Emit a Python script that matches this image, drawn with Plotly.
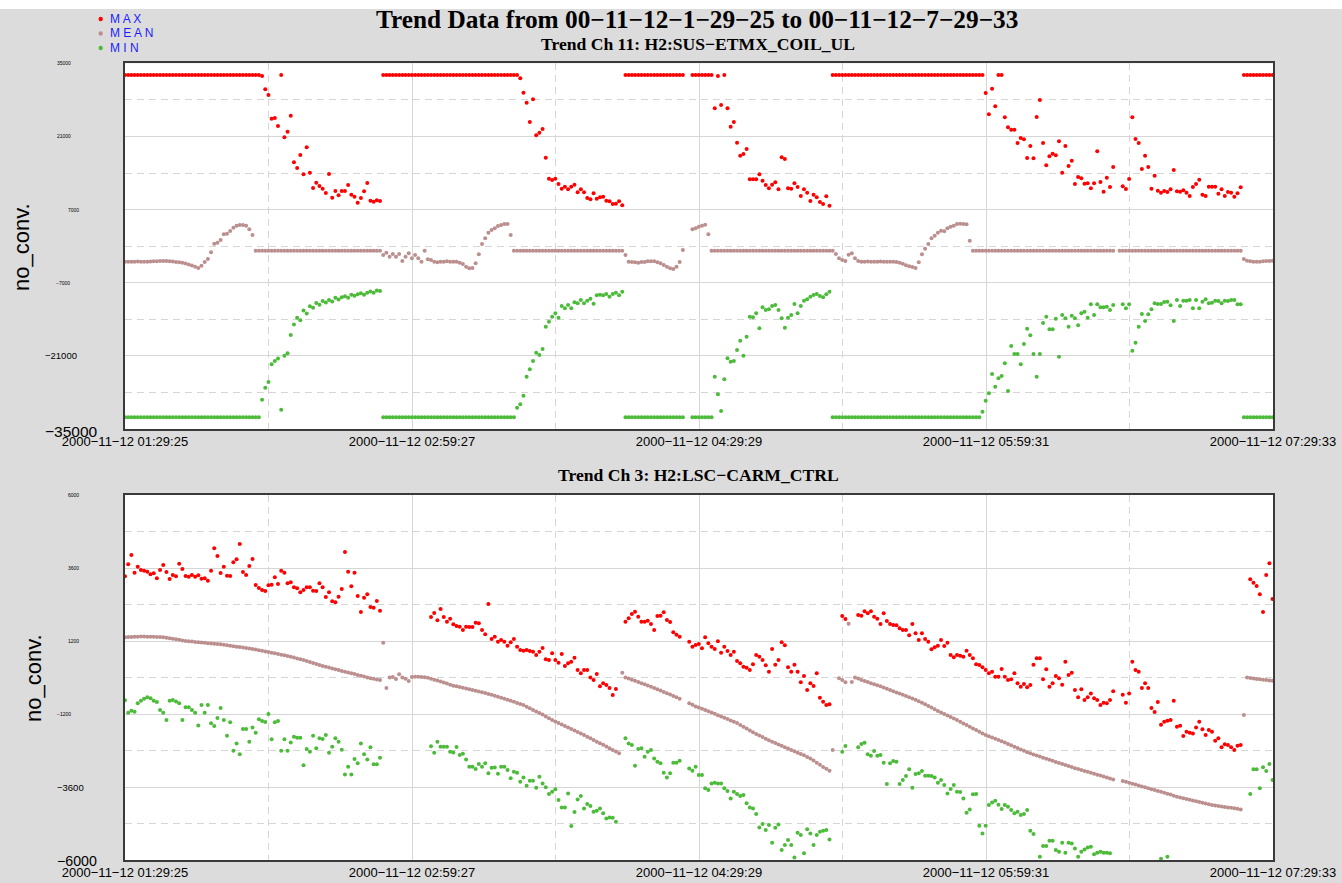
import pandas as pd
import plotly.graph_objects as go

# ---------------------------------------------------------------------------
# Trend data: one point per minute, 01:29:25 .. 07:29:25 (361 samples)
# ---------------------------------------------------------------------------
T0 = pd.Timestamp("2000-11-12 01:29:25")
T_END = pd.Timestamp("2000-11-12 07:29:33")
N = 361
times = [T0 + pd.Timedelta(minutes=i) for i in range(N)]

RAIL_HI = 32767
RAIL_LO = -32768
NA = None

# ---- Ch 11: H2:SUS-ETMX_COIL_UL ------------------------------------------
ch11_max = (
    [RAIL_HI] * 43
    + [32570, 30018, 28933, 24403, 24530, 23000, RAIL_HI]
    + [20830, 21915, 24978, 16045, 14960, 17450, 13750, 18916, 14068, 11133,
       12154, 11516, 11005, 10176, 13812, 9283, 10559, 9730, 10559, 10559,
       11707, 9857, 9474, 8326, 9219, 10495, 12090, 8708, 8517, 8772, 8645]
    + [RAIL_HI] * 43
    + [32123, 29380, 27466, 23765, 28104, 21213, 21724, 22425, 16939, 12919,
       12664, 12919, 11899, 11005, 11388, 10878, 11388, 11771, 10304, 10878,
       10304, 9219, 8964, 10112, 9091, 9346, 9474, 8708, 8581, 8070,
       8134, 8581, 7815]
    + [RAIL_HI] * 19
    + [NA, NA]
    + [RAIL_HI] * 7
    + [26381, 32570, 27019, 32767, 26381, 22872, 23765, 19810, 17321, 17640,
       18597, 12792, 12792, 12792, 13750, 12536, 11707, 11069, 11771, 12217,
       10878, 17002, 16683, 11069, 11005, 12026, 11325, 9602, 10878, 10240,
       8645, 9857, 9346, 8453, 8070, 9538, 7751]
    + [RAIL_HI] * 48
    + [29316, 25233, 30145, 26764, RAIL_HI, RAIL_HI]
    + [24659, 22744, 22298, 22298, 19746, 20703, 20448, 16875, 19172, 16811,
       24722, 27976, 19746, 15471, 17194, 17704, 17385, 20065, 14068, 19172,
       15344, 16365, 11899, 13239, 12983, 11963, 12026, 11069, 12026, 18151,
       12281, 10431, 13111, 11325, 15152]
    + [NA, NA]
    + [11452, 10942, 12856, 24659, 20511, 19746, 14770, 17321, 15152, 11005,
       13494, 10623, 10240, 10559, 10368, 10878, 14578, 10495, 10431, 10687,
       10240, 9602, 11325, 11899, 12728, 9857, 9602, 11388, 11388, 11388,
       10048, 10878, 9602, 10368, 10240, 9474, 10112, 11260]
    + [RAIL_HI] * 10
)

ch11_mean = (
    [-2970, -2970, -2990, -2970, -2950, -2970, -2990, -2970, -2950, -2900,
     -2870, -2840, -2820, -2840, -2880, -2950, -3010, -3080, -3180, -3320,
     -3500, -3720, -3950, -4200, -3750, -3050]
    + [-2457, -1181, 478, 670, 1180, 2265, 2392, 2903, 3541, 3923,
       4051, 4051, 3923, 3222, 2137]
    + [-862] * 40
    + [-1691, -1244, -2010, -1499, -2010, -1499, -2839, -2010, -1372, -2329,
       -1691, -2329, -2967, -862, -2520, -2648, -2967, -3095, -2967, -2967,
       -2903, -2967, -2967, -2967, -3158, -3414, -3924, -4243, -4179, -3286,
       -1563, 415, 1498, 2584, 3094, 3413, 3860, 4051, 4243, 4243, 2137]
    + [-862] * 35
    + [-1691, -2967, -3031, -3095, -3158, -3031, -3031, -2903, -2903, -2903,
       -3095, -3286, -3605, -3924, -4243, -4371, -3924, -3031, -734]
    + [NA, NA]
    + [3222, 3413, 3732, 3923, 4115, 2265]
    + [-862] * 39
    + [-1499, -2329, -2648, -2839, -1627, -1372, -2329, -2839,
       -2967, -2967, -2935, -2967, -2990, -2967, -2950, -2967, -2990, -2967, -2967,
       -3031, -3158, -3350, -3669, -3860, -3988, -4179, -3095, -1563, -479,
       415, 1498, 2009, 2584, 2967, 2839, 3413, 3732, 3923, 4243,
       4306, 4243, 4179, 1052]
    + [-862] * 45
    + [NA]
    + [-862] * 39
    + [-2457, -2776, -2903, -2967, -2967, -2967, -2903, -2839, -2839, -2776]
)

ch11_min = (
    [RAIL_LO] * 43
    + [-29400, -27100, -26000, -22600, -22000, -21500, -31300, -21000, -20500, -17000,
       -15000, -13700, -14200, -12300, -12900, -11500, -11800, -10900, -11200, -10500,
       -10800, -10300, -10600, -9900, -10200, -9800, -9600, -9900, -9300, -9500,
       -9200, -9000, -9300, -8900, -8700, -8900, -8500, -8581]
    + [RAIL_LO] * 42
    + [-30911, -30273, -28614, -24978, -23574, -21979, -20384, -20831, -19683, -15408,
       -14451, -13494, -12856, -13685, -11452, -11899, -11261, -11899, -10750, -10942,
       -10304, -10942, -10432, -10049, -11006, -9411, -9283, -9411, -9156, -9666,
       -9156, -8900, -9411, -8709]
    + [RAIL_LO] * 19
    + [NA, NA]
    + [RAIL_LO] * 7
    + [-24978, -28359, -31549, -25488, -21469, -22107, -21979, -19874, -18088, -20959,
       -17322, -13494, -13622, -12856, -15727, -11708, -12218, -12090, -11452, -11261,
       -12218, -13813, -15599, -13685, -13175, -11070, -12856, -11452, -10432, -10176,
       -9666, -9347, -9156, -9539, -9794, -9220, -8709]
    + [RAIL_LO] * 47
    + [-31677, -29572, -28168, -24468, -26892, -25297, -24850, -22426, -27721, -19108,
       -20640, -20640, -22617, -18726, -15791, -17067, -20640, -24978, -20640, -14706,
       -13494, -15918, -15918, -13877, -21150, -13175, -13813, -15408, -13302, -13813,
       -15153, -12856, -12537, -13685, -11133, -13175, -11133, -11708, -11708, -11580,
       -12218, -11261]
    + [NA, NA]
    + [-11133, -11899, -11133, -20002, -18471, -15408, -12984, -14323, -13047, -12090,
       -10942, -11070, -11070, -10687, -10623, -11325, -14323, -10304, -11452, -10432,
       -10432, -10304, -11899, -10304, -11899, -10623, -10176, -10942, -10815, -10432,
       -10496, -10942, -10432, -10496, -10304, -10304, -11133, -11133]
    + [RAIL_LO] * 10
)

# ---- Ch 3: H2:LSC-CARM_CTRL ----------------------------------------------
ch3_max = (
    [3326, 3720, 4027, 3446, 3643, 3534, 3512, 3479, 3391, 3424,
     3260, 3534, 3698, 3468, 3238, 3369, 3326, 3742, 3567, 3337,
     3315, 3369, 3315, 3358, 3249, 3260, 3183, 3512, 4246, 3994,
     3435, 3643, 3347, 3337, 3786, 3885, 4389, 3468, 3369, 3665,
     3896, 3041, 2942, 2876, 2843, 3030, 3052, 3293, 3073, 3512,
     3446, 3095, 3128, 2964, 2931, 2799, 2876, 2964, 2964, 2854,
     2843, 3095, 2964, 2646, 2799, 2504, 2471, 2657, 2909, 4126,
     3479, 2997, 3446, 2679, 2153, 2624, 2734, 2317, 2295, 2515, 2197]
    + [NA] * 15
    + [1988, 2120, 1879, 2251, 1988, 1835, 1933, 1747, 1692, 1670,
       1561, 1670, 1659, 1659, 1802, 1780, 1561, 1418, 2416, 1265,
       1342, 1177, 1232, 1177, 1046, 1155, 1265, 1013, 903, 881,
       903, 870, 848, 739, 848, 969, 596, 574, 794, 574,
       487, 772, 377, 465, 520, 651, 246, 136, 246, 246,
       4, -83, 114, -291, -193, -248, -346, -576, -379]
    + [NA, NA]
    + [1835, 1944, 2087, 2164, 1999, 1835, 1835, 1868, 1758, 1561,
       2021, 2032, 2142, 1890, 1824, 1484, 1407, 1342]
    + [NA, NA]
    + [1177, 1013, 1068]
    + [1100, 958, 1320, 1122, 1013, 936, 1188, 815, 1013, 870,
       739, 848, 542, 465, 355, 322, 246, 432, 739, 684,
       574, 399, 191, 936, 421, 574, 1155, 1057, 333, 191,
       421, 191, -160, 48, -412, -193, -280, 136, -664, -796,
       -905, -883]
    + [NA] * 3
    + [2021, 1922]
    + [NA] * 3
    + [2054, 2032, 2175, 2109, 2175, 1999, 1933, 1758, 2109, 1857,
       1758, 1725, 1714, 1616, 1561, 1561, 1385, 1758, 1451, 1232,
       1451, 1265, 1177, 925, 991, 1046, 1232, 1035, 1144, 739,
       662, 739, 717, 684, 881, 739, 629, 432, 410, 333,
       246, 136, 191, 26, 26, 279, 26, -83, -61, 136,
       -193, -302, -215, -324, -248, 421, 629, 629, -61, 268,
       -302, -193, 48, -28, -237, 520, 81, 158, -412, -653,
       -390, -741, -653, -522, -686, -741, -905, -828, -850, -741, -456]
    + [NA, NA]
    + [-565, -828, -522, 520, 246, 191, -346, -193, -346, -1004,
       -1135, -807, -1552, -1453, -1420, -1398, -763, -1618, -1585, -1925,
       -1782, -1815, -1837, -1640, -1453, -1705, -1892, -1727, -1782, -2078,
       -2001, -2297, -2198, -2220, -2297, -2385, -2242, -2220]
    + [NA, NA]
    + [3227, 3117, 3007, 2733, 2153, 3369, 3753, 2580]
)

ch3_mean = (
    [1320, 1330, 1335, 1340, 1342, 1345, 1345, 1342, 1340, 1338,
     1335, 1330, 1320, 1305, 1290, 1275, 1260, 1240, 1220, 1200,
     1190, 1180, 1170, 1160, 1150, 1140, 1130, 1120, 1110, 1100,
     1090, 1075, 1060, 1045, 1030, 1015, 1000, 985, 968, 952,
     937, 918, 898, 878, 858, 838, 816, 794, 772, 750,
     728, 706, 680, 655, 628, 600, 575, 542, 509, 476,
     443, 410, 382, 354, 326, 298, 269, 243, 217, 191,
     165, 140, 114, 86, 58, 30, 1, -27, -45, -64, -83]
    + [1144, -346, -1, 16, -50, 103, -1, -39, -116, 16, 27, 27]
    + [16, 5, -10, -40, -70, -100, -130, -165, -200, -240,
       -270, -290, -315, -340, -365, -390, -410, -435, -460, -485,
       -510, -540, -570, -600, -635, -665, -700, -730, -765, -800,
       -835, -870, -905, -960, -1010, -1065, -1120, -1170, -1220, -1280,
       -1340, -1398, -1450, -1500, -1545, -1595, -1640, -1690, -1740, -1790,
       -1840, -1890, -1945, -2000, -2055, -2110, -2165, -2215, -2270, -2325,
       -2380, -2435, -2494]
    + [158, 4, -30, -70, -105, -145, -185, -225, -265, -305,
       -345, -390, -430, -475, -520, -560, -605, -650, -700]
    + [NA, NA]
    + [-850, -900, -950, -990, -1030, -1070, -1110, -1150, -1195, -1240,
       -1280, -1320, -1365, -1410, -1455, -1500, -1560, -1620, -1680, -1740,
       -1800, -1855, -1910, -1960, -2010, -2060, -2110, -2155, -2200, -2245,
       -2290, -2335, -2380, -2425, -2470, -2515, -2560, -2610, -2660, -2730,
       -2800, -2870, -2940, -3000, -3064]
    + [-2385, NA]
    + [-28, -83, -160, 1769, -149]
    + [4, -30, -83, -115, -150, -185, -220, -255, -290, -330,
       -370, -410, -450, -490, -530, -570, -610, -650, -690, -735,
       -780, -830, -880, -935, -990, -1045, -1100, -1150, -1200, -1250,
       -1300, -1350, -1398, -1455, -1510, -1565, -1620, -1675, -1730, -1785,
       -1840, -1892, -1935, -1975, -2015, -2055, -2095, -2140, -2185, -2230,
       -2275, -2320, -2365, -2410, -2455, -2494, -2530, -2565, -2600, -2635,
       -2670, -2705, -2740, -2775, -2810, -2845, -2878, -2910, -2945, -2980,
       -3010, -3040, -3070, -3100, -3135, -3165, -3195, -3225, -3255, -3285,
       -3320, -3350]
    + [NA, NA]
    + [-3404, -3430, -3460, -3490, -3520, -3550, -3580, -3610, -3640, -3670,
       -3700, -3730, -3760, -3790, -3820, -3850, -3885, -3919, -3945, -3970,
       -3995, -4020, -4045, -4070, -4095, -4120, -4145, -4170, -4193, -4210,
       -4225, -4240, -4255, -4270, -4285, -4300, -4318, -4336]
    + [-1234, 4, -20, -35, -50, -60, -70, -80, -95, -105]
)

ch3_min = (
    [-752, -1157, -1092, -1124, -850, -763, -697, -653, -686, -763,
     -807, -1070, -1157, -1398, -763, -741, -785, -850, -1398, -982,
     -982, -1070, -1157, -1574, -905, -1157, -905, -1508, -1596, -1333,
     -1004, -1398, -1914, -1475, -2407, -2166, -2527, -1694, -1694, -2111,
     -1640, -1815, -1376, -1431, -1464, -1201, -2034, -1475, -1431, -2407,
     -2034, -2407, -2133, -1946, -1979, -1979, -2889, -2352, -2440, -1914,
     -2330, -2001, -2023, -1892, -2472, -2275, -2001, -2111, -2374, -3185,
     -2933, -3185, -2681, -2823, -2166, -2527, -2692, -2297, -2856, -2856, -2637]
    + [NA] * 15
    + [-2264, -2472, -2111, -2275, -2275, -2275, -2440, -2462, -2286, -2549,
       -2505, -2692, -2933, -2933, -3010, -2845, -2933, -2823, -3152, -2966,
       -2955, -3163, -2933, -2933, -3042, -3316, -3097, -3130, -3426, -3284,
       -3558, -3393, -3393, -3623, -3262, -3481, -3612, -3832, -3755, -3678,
       -4029, -4270, -4270, -3810, -4884, -4423, -4007, -3897, -4303, -4160,
       -4226, -4412, -4380, -4303, -4467, -4632, -4599, -4610, -4741]
    + [NA, NA]
    + [-2001, -2166, -2220, -2900, -2352, -2330, -2604, -2440, -2385, -2659,
       -2768, -2823, -3130, -3284, -3152, -2801, -2801, -2735]
    + [NA, NA]
    + [-2988, -3064, -2933]
    + [-3207, -3207, -3645, -3700, -3481, -3459, -3481, -3481, -3645, -3733,
       -3974, -3755, -3832, -3897, -3864, -4138, -4270, -4303, -4489, -4928,
       -4818, -5015, -4851, -5432, -4938, -4829, -5673, -5508, -5344, -5508,
       -5914, -5103, -5180, -5782, -4993, -5125, -5508, -5180, -5070, -5037,
       -5015, -5322]
    + [NA] * 3
    + [-2440, -2253]
    + [NA] * 3
    + [-2297, -2188, -2144, -2527, -2571, -2418, -2571, -2549, -2801, -3503,
       -2823, -2746, -2768, -3503, -3371, -3240, -3020, -3623, -3174, -3152,
       -3075, -3229, -3229, -3240, -3284, -3459, -3371, -3536, -3810, -3667,
       -3536, -3755, -3766, -3974, -4445, -4336, -3842, -3831, -4873, -5125,
       -4873, -4193, -4106, -4051, -4182, -4325, -4193, -4248, -4358, -4467,
       -4412, -4522, -4489, -4358, -5037, -5147]
    + [NA]
    + [-5892, -5541, -5541, -5366, -5366, -5673, -5728, -5432, -5760, -5432,
       -5454, -5618, -5892, -5728, -5651, -5585, -5563, -5815, -5760, -5728,
       -5760, -5760, -5782]
    + [NA] * 15
    + [-5960, NA, -5892]
    + [NA] * 23
    + [NA, NA]
    + [-3831, -3020, -3020, -3645, -2954, -3075, -2845, -3371]
)

for _series in (ch11_max, ch11_mean, ch11_min, ch3_max, ch3_mean, ch3_min):
    assert len(_series) == N, len(_series)

# ---- axis ticks and labels --------------------------------------------------
x_tickvals = ["2000-11-12 01:29:25", "2000-11-12 02:59:27", "2000-11-12 04:29:29",
              "2000-11-12 05:59:31", "2000-11-12 07:29:33"]
x_ticktext = ["2000\u221211\u221212 01:29:25", "2000\u221211\u221212 02:59:27",
              "2000\u221211\u221212 04:29:29", "2000\u221211\u221212 05:59:31",
              "2000\u221211\u221212 07:29:33"]
x_minorvals = ["2000-11-12 02:14:26", "2000-11-12 03:44:28",
               "2000-11-12 05:14:30", "2000-11-12 06:44:32"]

top_yticks = [35000, 21000, 7000, -7000, -21000, -35000]
top_ytext = ["35000", "21000", "7000", "\u22127000", "\u221221000", "\u221235000"]
top_yminor = [28000, 14000, 0, -14000, -28000]

bot_yticks = [6000, 3600, 1200, -1200, -3600, -6000]
bot_ytext = ["6000", "3600", "1200", "\u22121200", "\u22123600", "\u22126000"]
bot_yminor = [4800, 2400, 0, -2400, -4800]

main_title = "Trend Data from 00\u221211\u221212\u22121\u221229\u221225 to 00\u221211\u221212\u22127\u221229\u221233"
top_title = "Trend Ch 11: H2:SUS\u2212ETMX_COIL_UL"
bot_title = "Trend Ch 3: H2:LSC\u2212CARM_CTRL"
legend_names = ["M A X", "M E A N", "M I N"]

# ---------------------------------------------------------------------------
W, H = 1342, 883
COL_MAX, COL_MEAN, COL_MIN = "#ff0000", "#bc8f8f", "#4cbb3a"
GRID = "#d6d6d6"
FRAME = "#3a3a3a"


def px(x):
    return x / W


def py(y):
    return 1 - y / H


fig = go.Figure()
for ax_x, ax_y, series in (("x", "y", (ch11_mean, ch11_min, ch11_max)),
                           ("x2", "y2", (ch3_mean, ch3_min, ch3_max))):
    for vals, col in zip(series, (COL_MEAN, COL_MIN, COL_MAX)):
        fig.add_trace(go.Scatter(
            x=times, y=vals, mode="markers", xaxis=ax_x, yaxis=ax_y,
            marker=dict(size=4, color=col, line=dict(width=0)),
            cliponaxis=False, showlegend=False, hoverinfo="skip"))

xdom = [px(125), px(1273)]
xaxis_common = dict(
    type="date", range=[T0, T_END], domain=xdom, automargin=False,
    tickmode="array", tickvals=x_tickvals, ticktext=x_ticktext,
    ticks="", showgrid=True, gridcolor=GRID, gridwidth=1,
    minor=dict(tickmode="array", tickvals=x_minorvals, showgrid=True,
               gridcolor=GRID, gridwidth=1, griddash="7px,5px", ticks=""),
    showline=True, linecolor=FRAME, linewidth=1.5, mirror=True,
    zeroline=False,
    tickfont=dict(family="Liberation Sans, Arial", size=13, color="#000000"),
)
yaxis_common = dict(
    showticklabels=False, ticks="", showgrid=True, gridcolor=GRID, gridwidth=1,
    showline=True, linecolor=FRAME, linewidth=1.5, mirror=True, zeroline=False,
    tickmode="array", automargin=False,
)

fig.update_layout(
    width=W, height=H, autosize=False,
    margin=dict(l=0, r=0, t=0, b=0, pad=0, autoexpand=False),
    paper_bgcolor="#dcdcdc", plot_bgcolor="#ffffff",
    xaxis=dict(anchor="y", **xaxis_common),
    xaxis2=dict(anchor="y2", **xaxis_common),
    yaxis=dict(anchor="x", domain=[py(429), py(63.3)], range=[-35000, 35000],
               tickvals=top_yticks,
               minor=dict(tickmode="array", tickvals=top_yminor, showgrid=True,
                          gridcolor=GRID, griddash="7px,5px", ticks=""),
               **yaxis_common),
    yaxis2=dict(anchor="x2", domain=[py(860), py(495)], range=[-6000, 6000],
                tickvals=bot_yticks,
                minor=dict(tickmode="array", tickvals=bot_yminor, showgrid=True,
                           gridcolor=GRID, griddash="7px,5px", ticks=""),
                **yaxis_common),
)

shapes = [
    # white band along the top edge of the canvas
    dict(type="rect", xref="paper", yref="paper", x0=0, x1=1, y0=py(9), y1=1,
         fillcolor="#ffffff", line=dict(width=0), layer="below"),
]
annotations = []

# y tick labels (mixed sizes)
top_style = [(5, 64), (5, 64), (5, 73.5), (5, 63), (9.5, 61), (15.5, 71)]
bot_style = [(5, 73.5), (5, 73.5), (5, 73.5), (5, 63.5), (9.5, 70), (14.2, 77)]
for ticks, texts, styles, yref, last_shift in (
        (top_yticks, top_ytext, top_style, "y", -2),
        (bot_yticks, bot_ytext, bot_style, "y2", -1)):
    for i, (v, t, (fs, xc)) in enumerate(zip(ticks, texts, styles)):
        annotations.append(dict(
            x=px(xc), y=v, xref="paper", yref=yref, text=t, showarrow=False,
            xanchor="center", yanchor="middle",
            yshift=last_shift if i == len(ticks) - 1 else 0,
            font=dict(family="Liberation Sans, Arial", size=fs, color="#000000")))

# y axis titles
for xc, yc in ((21, 247), (33, 678)):
    annotations.append(dict(
        x=px(xc), y=py(yc), xref="paper", yref="paper", text="no_conv.",
        showarrow=False, textangle=-90, xanchor="center", yanchor="middle",
        font=dict(family="Liberation Sans, Arial", size=22, color="#000000")))

# titles
annotations.append(dict(
    x=px(697), y=py(19), xref="paper", yref="paper", text=f"<b>{main_title}</b>",
    showarrow=False, xanchor="center", yanchor="middle",
    font=dict(family="Liberation Serif, Times New Roman", size=25.3, color="#000000")))
for text, yc in ((top_title, 44), (bot_title, 475)):
    annotations.append(dict(
        x=px(698), y=py(yc), xref="paper", yref="paper", text=f"<b>{text}</b>",
        showarrow=False, xanchor="center", yanchor="middle",
        font=dict(family="Liberation Serif, Times New Roman", size=17.6, color="#000000")))

# legend: coloured dot + spaced label
for name, col, yc in zip(legend_names, (COL_MAX, COL_MEAN, COL_MIN), (19, 33.5, 48)):
    r = 2.2
    shapes.append(dict(type="circle", xref="paper", yref="paper",
                       x0=px(100.7 - r), x1=px(100.7 + r), y0=py(yc + r), y1=py(yc - r),
                       fillcolor=col, line=dict(width=0)))
    annotations.append(dict(
        x=px(108), y=py(yc), xref="paper", yref="paper", text=name,
        showarrow=False, xanchor="left", yanchor="middle",
        font=dict(family="Liberation Sans, Arial", size=12, color="#1c1cff")))

fig.update_layout(shapes=shapes, annotations=annotations)
fig.write_html("out.html")
